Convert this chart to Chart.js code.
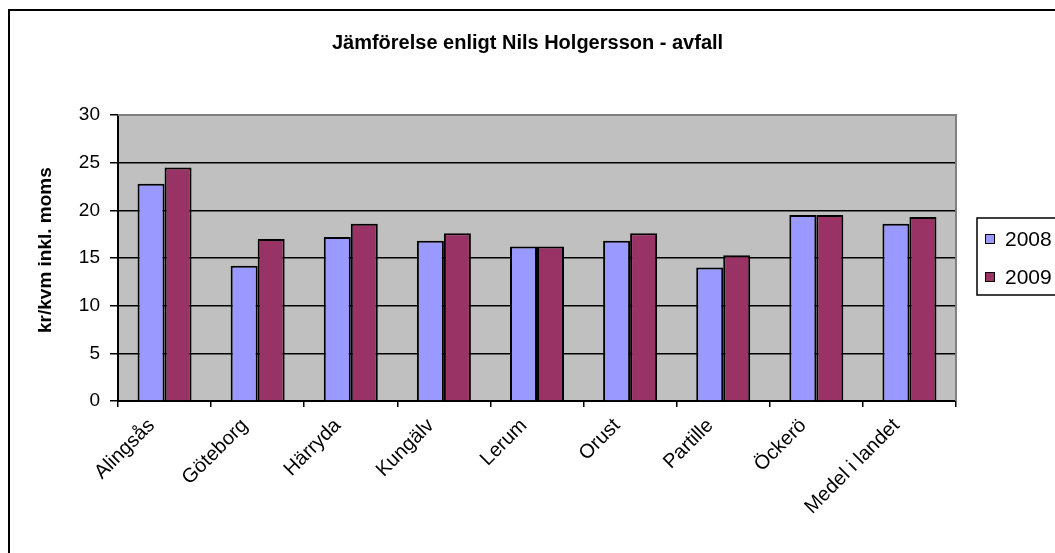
<!DOCTYPE html>
<html>
<head>
<meta charset="utf-8">
<script src="https://cdn.jsdelivr.net/npm/chart.js@4.4.0/dist/chart.umd.min.js"></script>
<style>
  html, body { margin: 0; padding: 0; background: #fff; overflow: hidden; }
  #chart { display: block; }
</style>
</head>
<body>
<canvas id="chart" width="1055" height="553"></canvas>
<script>
const categories = ["Alingsås", "Göteborg", "Härryda", "Kungälv", "Lerum", "Orust", "Partille", "Öckerö", "Medel i landet"];
const values2008 = [22.8, 14.2, 17.2, 16.8, 16.2, 16.8, 14.0, 19.5, 18.6];
const values2009 = [24.5, 17.0, 18.6, 17.6, 16.2, 17.6, 15.3, 19.5, 19.3];
const seriesNames = ["2008", "2009"];
const seriesColors = ["#9999FF", "#993366"];

const FONT = "Arial, 'Liberation Sans', sans-serif";

// grey plot background, outer frame, grey top/right plot border
const background = {
  id: "background",
  beforeDraw(chart) {
    const { ctx, chartArea: a } = chart;
    ctx.save();
    ctx.fillStyle = "#fff";
    ctx.fillRect(0, 0, chart.width, chart.height);
    ctx.fillStyle = "#000";
    ctx.fillRect(8, 9, chart.width, 2);
    ctx.fillRect(8, 9, 2, chart.height);
    ctx.fillStyle = "#C0C0C0";
    ctx.fillRect(a.left, a.top, a.right - a.left, a.bottom - a.top);
    ctx.restore();
  },
  afterDatasetsDraw(chart) {
    const { ctx, chartArea: a } = chart;
    ctx.save();
    ctx.strokeStyle = "#808080";
    ctx.lineWidth = 2;
    ctx.beginPath();
    ctx.moveTo(a.left, a.top);
    ctx.lineTo(a.right, a.top);
    ctx.lineTo(a.right, a.bottom);
    ctx.stroke();
    ctx.restore();
  }
};

// boxed legend on the right, like the old spreadsheet chart
const boxLegend = {
  id: "boxLegend",
  afterDraw(chart) {
    const { ctx } = chart;
    const x = 977, y = 218, w = 90, h = 77;
    ctx.save();
    ctx.fillStyle = "#fff";
    ctx.fillRect(x, y, w, h);
    ctx.strokeStyle = "#000";
    ctx.lineWidth = 1.5;
    ctx.strokeRect(x, y, w, h);
    ctx.font = "21px " + FONT;
    ctx.textBaseline = "middle";
    chart.data.datasets.forEach((ds, i) => {
      const cy = 239 + i * 38;
      ctx.fillStyle = ds.backgroundColor;
      ctx.fillRect(985, cy - 5, 10, 10);
      ctx.lineWidth = 1;
      ctx.strokeRect(985.5, cy - 4.5, 9, 9);
      ctx.fillStyle = "#000";
      ctx.fillText(ds.label, 1005, cy + 1);
    });
    ctx.restore();
  }
};

new Chart(document.getElementById("chart"), {
  type: "bar",
  data: {
    labels: categories,
    datasets: [
      {
        label: seriesNames[0],
        data: values2008,
        backgroundColor: seriesColors[0],
        borderColor: "#000",
        borderWidth: 2,
        categoryPercentage: 0.58,
        barPercentage: 1.0
      },
      {
        label: seriesNames[1],
        data: values2009,
        backgroundColor: seriesColors[1],
        borderColor: "#000",
        borderWidth: 2,
        categoryPercentage: 0.58,
        barPercentage: 1.0
      }
    ]
  },
  options: {
    responsive: false,
    animation: false,
    layout: { padding: 0 },
    plugins: {
      legend: { display: false },
      tooltip: { enabled: false },
      title: {
        display: true,
        text: "Jämförelse enligt Nils Holgersson - avfall",
        color: "#000",
        font: { family: FONT, size: 20, weight: "bold" },
        padding: { top: 31, bottom: 60 }
      }
    },
    scales: {
      x: {
        grid: {
          offset: true,
          drawOnChartArea: false,
          color: "#000",
          lineWidth: 1.5,
          tickLength: 6
        },
        border: { display: true, color: "#000", width: 2 },
        ticks: {
          color: "#000",
          font: { family: FONT, size: 20 },
          minRotation: 45,
          maxRotation: 45,
          autoSkip: false,
          labelOffset: -13,
          padding: 7
        },
        afterFit(scale) { scale.height = 152; }
      },
      y: {
        min: 0,
        max: 30,
        ticks: {
          stepSize: 5,
          color: "#000",
          font: { family: FONT, size: 19 },
          padding: 10
        },
        grid: { color: "#000", lineWidth: 1.5, tickLength: 8 },
        border: { display: true, color: "#000", width: 2 },
        title: {
          display: true,
          text: "   kr/kvm inkl. moms",
          color: "#000",
          font: { family: FONT, size: 19, weight: "bold" },
          padding: { top: 34, bottom: 0 }
        },
        afterFit(scale) { scale.width = 118; }
      },
      yRight: {
        position: "right",
        display: true,
        grid: { display: false },
        border: { display: false },
        ticks: { display: false },
        afterFit(scale) { scale.width = 99; }
      }
    }
  },
  plugins: [background, boxLegend]
});
</script>
</body>
</html>
